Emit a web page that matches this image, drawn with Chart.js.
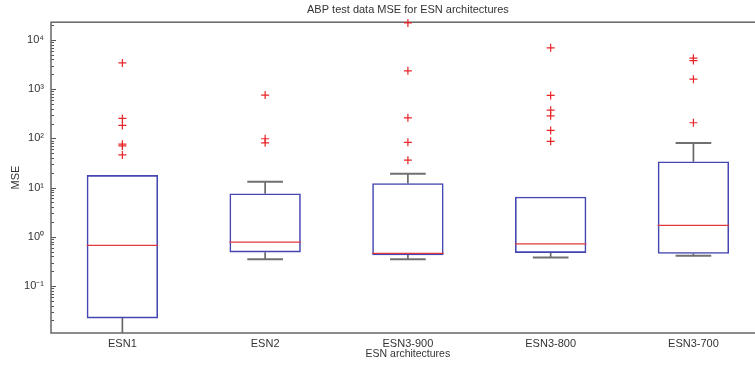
<!DOCTYPE html>
<html>
<head>
<meta charset="utf-8">
<script src="https://cdn.jsdelivr.net/npm/chart.js@4"></script>
<style>
  html, body { margin: 0; padding: 0; background: #fff; overflow: hidden; }
  #wrap { position: absolute; left: 0; top: 0; width: 770px; height: 366px; }
</style>
</head>
<body>
<div id="wrap"><canvas id="boxChart"></canvas></div>
<script>
// MSE per architecture
const categories = ['ESN1', 'ESN2', 'ESN3-900', 'ESN3-800', 'ESN3-700'];
const q1 = [0.022, 0.48, 0.42, 0.47, 0.45];
const median = [0.67, 0.78, 0.46, 0.72, 1.71];
const q3 = [17.9, 7.6, 12.3, 6.5, 34];
const whiskerLow = [0.008, 0.35, 0.35, 0.38, 0.41];
const whiskerHigh = [17.9, 13.1, 19, 6.5, 80];
const outliers = [
    [3410, 254, 183, 76, 70, 46],
    [755, 98, 81],
    [22100, 2350, 261, 83, 36],
    [6890, 743, 374, 287, 145, 87],
    [4250, 3800, 1590, 207]
];

const yTickDecades = [-1, 0, 1, 2, 3, 4];
const yTickLabels = ['10⁻¹', '10⁰', '10¹', '10²', '10³', '10⁴'];
const yMin = 0.0111, yMax = 22860;

Chart.defaults.font.family = "'Liberation Sans', Arial, sans-serif";
Chart.defaults.font.size = 11;
Chart.defaults.color = '#333';

const outlierPoints = [];
outliers.forEach((list, i) => list.forEach(v => outlierPoints.push({ x: categories[i], y: v })));

// fraction of a category's width, so medians/caps follow the category scale
const catSpan = (c, frac) => c.chart.scales.x.width / categories.length * frac;

// inward tick marks + axes frame, MATLAB style
const framePlugin = {
    id: 'frame',
    beforeDatasetsDraw(chart) {
        const { ctx, chartArea: a, scales: { y } } = chart;
        ctx.save();
        ctx.strokeStyle = '#555';
        ctx.lineWidth = 1;
        y.ticks.forEach(t => {
            const py = Math.round(y.getPixelForValue(t.value)) + 0.5;
            const len = t.major ? 5 : 3;
            ctx.beginPath();
            ctx.moveTo(a.left, py); ctx.lineTo(a.left + len, py);
            ctx.moveTo(a.right, py); ctx.lineTo(a.right - len, py);
            ctx.stroke();
        });
        ctx.strokeStyle = '#666';
        ctx.lineWidth = 1.5;
        ctx.strokeRect(a.left, a.top, a.right - a.left, a.bottom - a.top);
        ctx.restore();
    }
};

new Chart(document.getElementById('boxChart'), {
    type: 'bar',
    data: {
        labels: categories,
        datasets: [
            {
                type: 'line',
                label: 'outliers',
                data: outlierPoints,
                showLine: false,
                pointStyle: 'cross',
                pointRadius: 4,
                pointBorderWidth: 1.2,
                pointBorderColor: '#e8262a',
                clip: false
            },
            {
                type: 'line',
                label: 'median',
                data: median,
                showLine: false,
                pointStyle: 'line',
                pointRadius: c => catSpan(c, 0.25),
                pointBorderWidth: 1.3,
                pointBorderColor: '#e0393c'
            },
            {
                type: 'line',
                label: 'caps',
                data: whiskerHigh.map((v, i) => (v > q3[i] ? v : null)),
                showLine: false,
                pointStyle: 'line',
                pointRadius: c => catSpan(c, 0.125),
                pointBorderWidth: 2,
                pointBorderColor: '#707070',
                clip: 0
            },
            {
                type: 'line',
                label: 'capsLow',
                data: whiskerLow,
                showLine: false,
                pointStyle: 'line',
                pointRadius: c => catSpan(c, 0.125),
                pointBorderWidth: 2,
                pointBorderColor: '#707070',
                clip: 0
            },
            {
                label: 'box',
                data: q1.map((v, i) => [v, q3[i]]),
                backgroundColor: 'rgba(0,0,0,0)',
                borderColor: '#4646b2',
                borderWidth: 1.6,
                borderSkipped: false,
                barPercentage: 0.5,
                categoryPercentage: 1,
                grouped: false
            },
            {
                label: 'upper whisker',
                data: q3.map((v, i) => (whiskerHigh[i] > v ? [v, whiskerHigh[i]] : null)),
                backgroundColor: '#666',
                barThickness: 1,
                grouped: false,
                clip: 0
            },
            {
                label: 'lower whisker',
                data: q1.map((v, i) => (whiskerLow[i] < v ? [whiskerLow[i], v] : null)),
                backgroundColor: '#666',
                barThickness: 1,
                grouped: false,
                clip: 0
            }
        ]
    },
    options: {
        responsive: true,
        maintainAspectRatio: false,
        animation: false,
        layout: { padding: 0 },
        plugins: {
            legend: { display: false },
            tooltip: { enabled: false },
            title: {
                display: true,
                text: 'ABP test data MSE for ESN architectures',
                fullSize: false,
                color: '#333',
                font: { size: 11, weight: 'normal' },
                padding: { top: 3, bottom: 6 }
            }
        },
        scales: {
            x: {
                grid: { display: false, drawTicks: false },
                border: { display: false },
                ticks: { padding: 4, maxRotation: 0, font: { size: 11 } },
                title: {
                    display: true,
                    text: 'ESN architectures',
                    font: { size: 10.5 },
                    padding: { top: 0, bottom: 6 }
                },
                afterFit: s => { s.height = 33; }
            },
            y: {
                type: 'logarithmic',
                min: yMin,
                max: yMax,
                grid: { display: false, drawTicks: false },
                border: { display: false },
                ticks: {
                    autoSkip: false,
                    padding: 7,
                    font: { size: 11 },
                    callback: v => {
                        const k = yTickDecades.findIndex(d => Math.abs(Math.log10(v) - d) < 1e-9);
                        return k >= 0 ? yTickLabels[k] : '';
                    }
                },
                title: {
                    display: true,
                    text: 'MSE',
                    font: { size: 11 },
                    padding: { top: 9, bottom: 0 }
                },
                afterBuildTicks: axis => {
                    const ticks = [];
                    for (let d = yTickDecades[0] - 1; d <= yTickDecades[yTickDecades.length - 1]; d++) {
                        for (let m = 1; m < 10; m++) {
                            const v = m * Math.pow(10, d);
                            if (v >= axis.min && v <= axis.max) ticks.push({ value: v, major: m === 1 });
                        }
                    }
                    axis.ticks = ticks;
                },
                afterFit: s => { s.width = 51; }
            }
        }
    },
    plugins: [framePlugin]
});
</script>
</body>
</html>
